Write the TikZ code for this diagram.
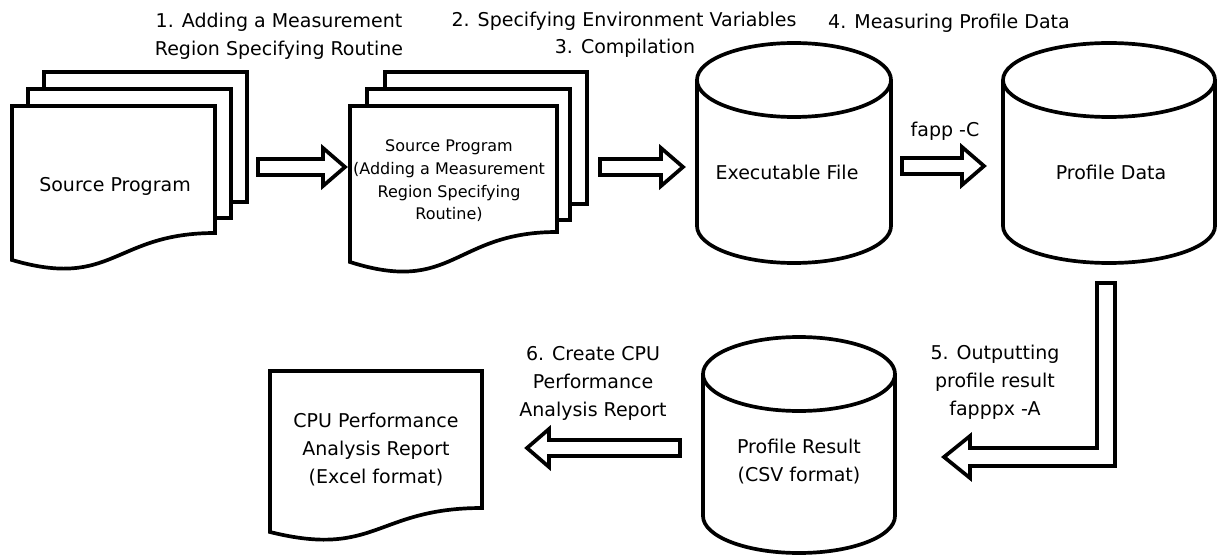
\documentclass[tikz,border=0pt]{standalone}
\usepackage{fontspec}
\setmainfont{DejaVu Sans}
\usepackage{xcolor}
\usepackage{tikz}
\usetikzlibrary{calc}

% document sheet: left, top, right, right bottom, left bottom
\newcommand{\docsheet}[5]{%
	\draw [outline] (#1,#2) -- (#3,#2) -- (#3,#4) .. controls ({(#1+#3)/2},#4) and ({(#1+#3)/2},{#5+1.1*(#5-#4)}) .. (#1,#5) -- cycle;}
% drum: centre x, x radius, top, bottom
\newcommand{\drum}[4]{%
	\draw [outline] ({#1-#2},{#3+37}) -- ({#1-#2},{#4-37}) arc [start angle=180, end angle=360, x radius=#2pt, y radius=37pt] -- ({#1+#2},{#3+37});
	\draw [outline] (#1,{#3+37}) ellipse [x radius=#2pt, y radius=37pt];}
% block arrow from tail to tip (horizontal)
\newcommand{\blockarrow}[2]{%
	\draw [outline] let \p1=(#1), \p2=(#2), \n1={\x2-sign(\x2-\x1)*22} in
		(\x1,{\y1+8pt}) -- ({\n1*1pt},{\y1+8pt}) -- ({\n1*1pt},{\y1+19pt}) -- (\x2,\y1)
		-- ({\n1*1pt},{\y1-19pt}) -- ({\n1*1pt},{\y1-8pt}) -- (\x1,{\y1-8pt}) -- cycle;}

\begin{document}
\begin{tikzpicture}[x=1pt, y=-1pt]
						\tikzstyle{every node}=[font=\fontsize{19}{28}\selectfont, align=center, inner sep=0pt]
						\tikzstyle{outline}=[line width=3.7pt, fill=white, line join=miter]
						\useasboundingbox (0,0) rectangle (1217,556);
						% source program stack
						\draw [outline] (44,72) rectangle (247,202);
						\draw [outline] (28,89) rectangle (231,218);
						\docsheet{12}{106}{215}{233}{260}
						\node (src) at (115,186) {Source Program};
						% source program with routine
						\draw [outline] (385,72) rectangle (587,204);
						\draw [outline] (367,89) rectangle (570,220);
						\docsheet{350}{106}{557}{232}{262}
						\node (srcmr) [font=\fontsize{16}{22.7}\selectfont] at (449,181) {Source Program\\(Adding a Measurement\\Region Specifying\\Routine)};
						% drums
						\drum{794}{97}{43}{263}
						\node (exe) at (787,172) {Executable File};
						\drum{1109}{106}{43}{263}
						\node (pdata) at (1111,172) {Profile Data};
						\drum{799}{96}{337}{553}
						\node (presult) at (799,462) {Profile Result\\(CSV format)};
						% report
						\docsheet{270}{371}{482}{508}{532}
						\node (report) at (376,450) {CPU Performance\\Analysis Report\\(Excel format)};
						% arrows
						\coordinate (a1 tail) at (258,167);
						\coordinate (a1 tip) at (345,167);
						\coordinate (a2 tail) at (600,167);
						\coordinate (a2 tip) at (683,167);
						\coordinate (a3 tail) at (902,166);
						\coordinate (a3 tip) at (984,166);
						\coordinate (a5 top) at (1106,283);
						\coordinate (a5 tip) at (944,457);
						\coordinate (a6 tail) at (680,448);
						\coordinate (a6 tip) at (527,448);
						\blockarrow{a1 tail}{a1 tip}
						\blockarrow{a2 tail}{a2 tip}
						\blockarrow{a3 tail}{a3 tip}
						\blockarrow{a6 tail}{a6 tip}
						\draw [outline] let \p1=(a5 top), \p2=(a5 tip) in
							({\x1-9pt},\y1) -- ({\x1+9pt},\y1) -- ({\x1+9pt},{\y2-9pt}) -- ({\x2+26pt},{\y2-9pt}) -- ({\x2+26pt},{\y2-21pt}) -- (\x2,\y2)
							-- ({\x2+26pt},{\y2+21pt}) -- ({\x2+26pt},{\y2+9pt}) -- ({\x1-9pt},{\y2+9pt}) -- cycle;
						% step labels
						\node (step1) at (279,36) {1. Adding a Measurement\\Region Specifying Routine};
						\node (step2) at (624,21) {2. Specifying Environment Variables};
						\node (step3) at (625,48) {3. Compilation};
						\node (step4) at (949,23) {4. Measuring Profile Data};
						\node (fappc) at (945,131) {fapp -C};
						\node (step5) at (995,382) {5. Outputting\\profile result\\fapppx -A};
						\node (step6) at (593,383) {6. Create CPU\\Performance\\Analysis Report};
					\end{tikzpicture}
\end{document}
